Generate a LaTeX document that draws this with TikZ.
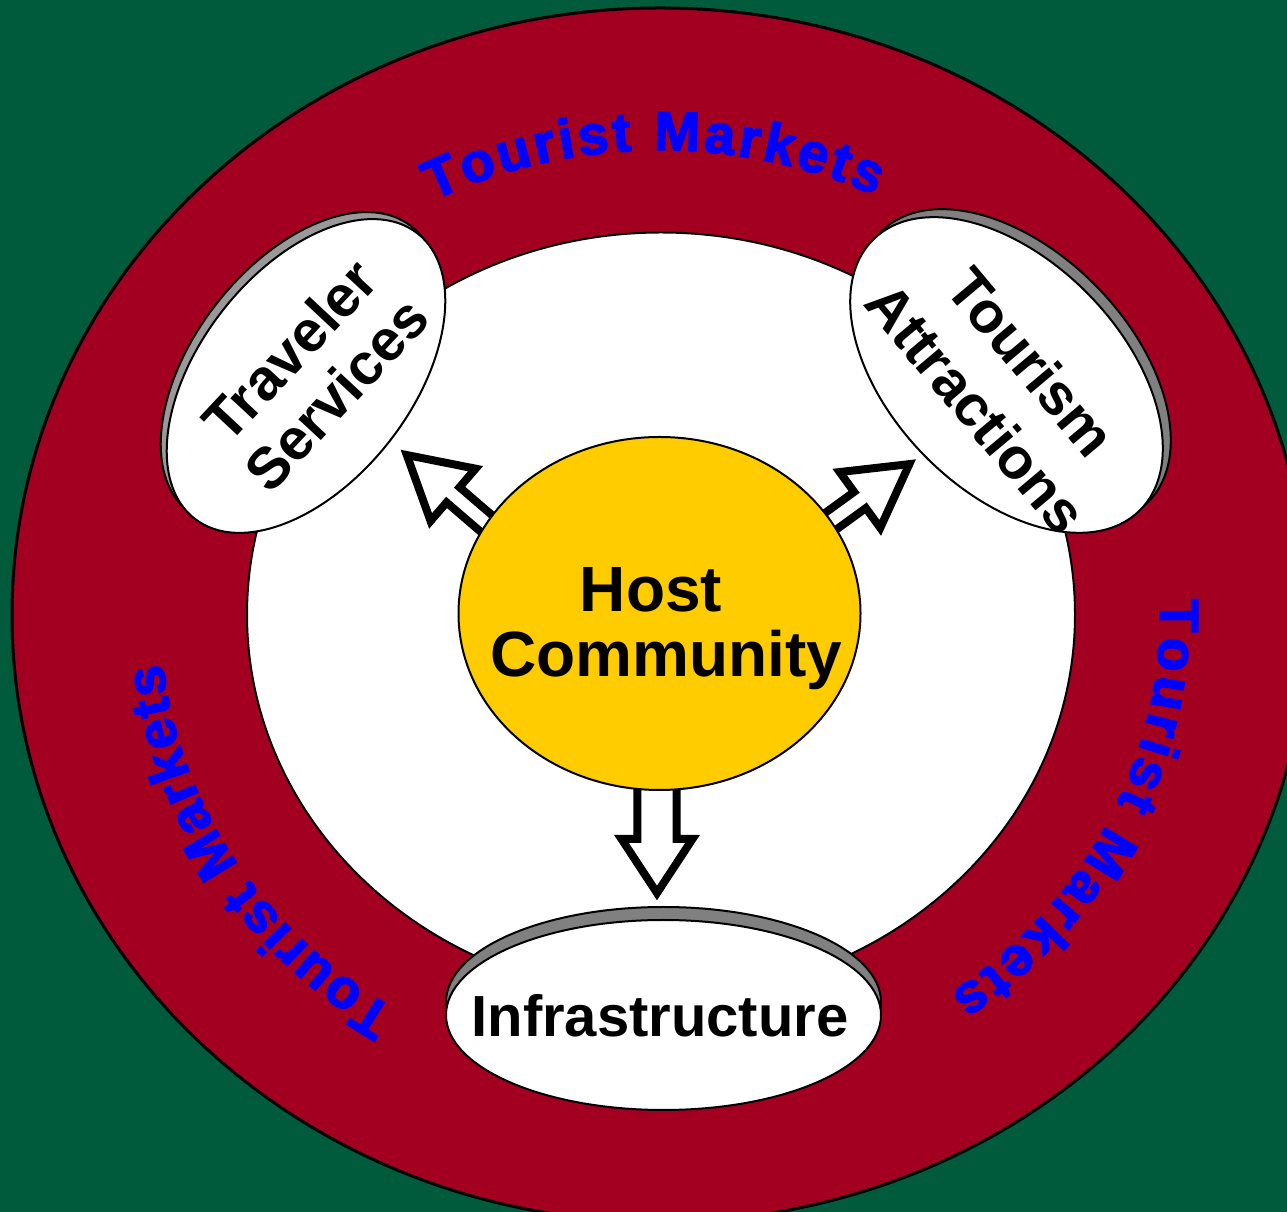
\documentclass[tikz,border=0pt]{standalone}
\usepackage{fontspec}
\setmainfont{Liberation Sans}
\newfontfamily\tmfam[FakeBold=3]{Liberation Sans Bold}
\usetikzlibrary{shapes.geometric,decorations.text,calc}
\definecolor{bggreen}{RGB}{0,90,60}
\definecolor{ringred}{RGB}{163,0,33}
\definecolor{hostyellow}{RGB}{255,204,0}
\definecolor{tmblue}{RGB}{0,0,255}
\definecolor{shadeA}{RGB}{153,153,153}
\definecolor{shadeB}{RGB}{128,128,128}
\newcommand\tmfont{\tmfam\fontsize{55}{55}\selectfont\color{tmblue}}
\begin{document}
\begin{tikzpicture}[x=1pt,y=1pt,
  disc/.style={ellipse, draw=black, line width=2pt, inner sep=0pt, outer sep=0pt},
  disctext/.style={font=\fontsize{58}{64}\selectfont\bfseries, text=black, inner sep=0pt, align=center},
  blockarrow/.style={draw=black, fill=white, line width=8pt, line join=miter, miter limit=10},
  markets/.style={decorate, decoration={text along path, text format delimiters={|}{|}, text align=fit to path, text={|\tmfont|Tourist Markets}}}
]
\useasboundingbox (0,0) rectangle (1287,1212);
\clip (0,0) rectangle (1287,1212);
\fill[bggreen] (0,0) rectangle (1287,1212);

% outer ring
\node[disc, fill=ringred, line width=3pt, minimum width=1296pt, minimum height=1214pt] (ring) at (660,597) {};
\path[markets] ($(ring.center)+(117:500pt and 465pt)$) arc[start angle=117, end angle=64.5, x radius=500pt, y radius=465pt];
\path[markets] ($(ring.center)+(2:500pt and 465pt)$) arc[start angle=2, end angle=-54.5, x radius=500pt, y radius=465pt];
\path[markets] ($(ring.center)+(238:500pt and 465pt)$) arc[start angle=238, end angle=186, x radius=500pt, y radius=465pt];

% inner white field
\node[disc, fill=white, minimum width=828pt, minimum height=764pt] (inner) at (661,597.5) {};

% Traveler Services
\node[disc, fill=shadeA, minimum width=362pt, minimum height=212pt, rotate=52] (travback) at (300,843) {};
\node[disc, fill=white, minimum width=362pt, minimum height=212pt, rotate=52] (trav) at (306,836) {};
\node[disctext, rotate=47] (travtext) at (313,840) {Traveler\\Services};

% Tourism Attractions
\node[disc, fill=shadeB, minimum width=380pt, minimum height=230pt, rotate=-45.6] (tourback) at (1014.5,845) {};
\node[disc, fill=white, minimum width=380pt, minimum height=230pt, rotate=-45.6] (tour) at (1006.5,837) {};
\node[disctext, rotate=-50, font=\fontsize{58}{72}\selectfont\bfseries] (tourtext) at (1004,827) {Tourism\\Attractions};

% Infrastructure
\node[disc, fill=shadeB, minimum width=435pt, minimum height=190pt] (infraback) at (663.5,210) {};
\node[disc, fill=white, minimum width=435pt, minimum height=190pt] (infra) at (663.5,197) {};
\node[font=\fontsize{58}{64}\selectfont\bfseries, inner sep=0pt, anchor=base] (infratext) at (660,175.3) {Infrastructure};

% block arrows (tails hidden under the host community)
\begin{scope}[shift={(trav.center)}, rotate=-40.7]
  \draw[blockarrow] (300,15.8) -- (189,15.8) -- (189,40.3) -- (128,5.8) -- (189,-28.7) -- (189,-4.2) -- (300,-4.2) -- cycle;
\end{scope}
\begin{scope}[shift={(tour.center)}, rotate=216]
  \draw[blockarrow] (300,25) -- (192,25) -- (192,49.5) -- (131,15) -- (192,-19.5) -- (192,5) -- (300,5) -- cycle;
\end{scope}
\begin{scope}[shift={(infra.center)}, rotate=90]
  \draw[blockarrow] (255,26.1) -- (176,26.1) -- (176,42) -- (122,6.5) -- (176,-29) -- (176,-13.1) -- (255,-13.1) -- cycle;
\end{scope}

% Host Community
\node[disc, fill=hostyellow, minimum width=402pt, minimum height=353pt] (host) at (659.5,598.5) {};
\node[font=\fontsize{64}{64}\selectfont\bfseries, inner sep=0pt, anchor=base] (hostA) at (651,600) {Host};
\node[font=\fontsize{64}{64}\selectfont\bfseries, inner sep=0pt, anchor=base] (hostB) at (666.5,535) {Community};
\end{tikzpicture}
\end{document}
